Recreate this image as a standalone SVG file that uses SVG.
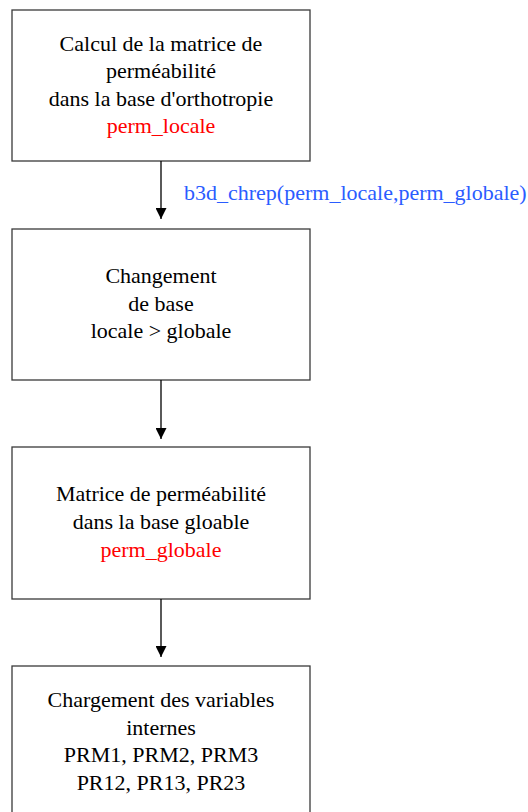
<svg xmlns="http://www.w3.org/2000/svg" width="528" height="812" viewBox="0 0 528 812">
<style>
.box{fill:#fff;stroke:#3a3a3a;stroke-width:1.3}
.t{font-family:"Liberation Serif","Times New Roman",serif;font-size:22px;fill:#000;text-anchor:middle}
.red{fill:#ff0000}
.lbl{font-family:"Liberation Serif","Times New Roman",serif;font-size:22px;fill:#2a5cff}
.conn{stroke:#000;stroke-width:1.3;fill:none;marker-end:url(#ah)}
</style>
<defs>
<marker id="ah" viewBox="0 0 11 11" refX="11" refY="5.5" markerWidth="11" markerHeight="11" markerUnits="userSpaceOnUse" orient="auto">
<path d="M0,0 L11,5.5 L0,11 z" fill="#000"/>
</marker>
</defs>
<rect width="528" height="812" fill="#fff"/>
<g id="node-calcul">
<rect class="box" x="12" y="10" width="298" height="151"/>
<text class="t" x="161" y="50.5">Calcul de la matrice de</text>
<text class="t" x="161" y="78">perméabilité</text>
<text class="t" x="161" y="105.5">dans la base d'orthotropie</text>
<text class="t red" x="161" y="133">perm_locale</text>
</g>
<g id="node-changement">
<rect class="box" x="12" y="229" width="298" height="151"/>
<text class="t" x="161" y="283">Changement</text>
<text class="t" x="161" y="310.5">de base</text>
<text class="t" x="161" y="338">locale &gt; globale</text>
</g>
<g id="node-matrice">
<rect class="box" x="12" y="447" width="298" height="152"/>
<text class="t" x="161" y="501">Matrice de perméabilité</text>
<text class="t" x="161" y="529">dans la base gloable</text>
<text class="t red" x="161" y="556.5">perm_globale</text>
</g>
<g id="node-chargement">
<rect class="box" x="12" y="666" width="298" height="160"/>
<text class="t" x="161" y="707">Chargement des variables</text>
<text class="t" x="161" y="734.5">internes</text>
<text class="t" x="161" y="762">PRM1, PRM2, PRM3</text>
<text class="t" x="161" y="789.5">PR12, PR13, PR23</text>
</g>
<g id="connectors">
<line class="conn" x1="161" y1="161" x2="161" y2="219"/>
<text class="lbl" x="184" y="200">b3d_chrep(perm_locale,perm_globale)</text>
<line class="conn" x1="161" y1="380" x2="161" y2="439"/>
<line class="conn" x1="161" y1="599" x2="161" y2="657"/>
</g>
</svg>
